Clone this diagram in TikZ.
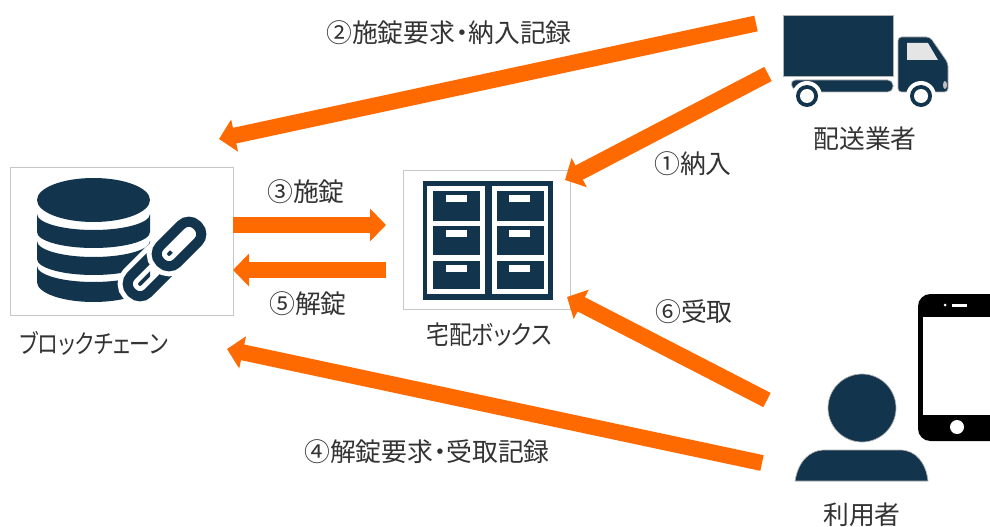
\documentclass[tikz,border=0pt]{standalone}
\usepackage{fontspec}
\setmainfont{Noto Sans CJK JP}[RawFeature=+palt]
\usetikzlibrary{arrows.meta}
\definecolor{navy}{HTML}{12344D}
\definecolor{flow}{HTML}{FF6A00}
\tikzset{
    frame/.style = {draw=black!22, line width=0.45pt, fill=white, inner sep=0pt},
    flowline/.style = {draw=flow, line width=0.32cm, -{Triangle[length=0.32cm, width=0.64cm]}},
    label/.style = {font=\fontsize{14.7pt}{17pt}\selectfont, text=black!80, inner sep=0pt},
    navyfill/.style = {fill=navy, draw=black!30, line width=0.4pt}
}

\begin{document}
\begin{tikzpicture}[x=0.02cm, y=-0.02cm]
    \useasboundingbox (0, 0) rectangle (990, 527);

    % frames
    \node[frame, minimum width=4.46cm, minimum height=2.96cm, name=chain] at (121.5, 241) {};
    \node[frame, minimum width=3.34cm, minimum height=2.78cm, name=box] at (486.5, 239.5) {};

    % database
    \fill[navy] (93.5, 200) ellipse [x radius=56.5, y radius=22];
    \foreach \top/\bot/\r in {214/232/16, 241/259/16, 266/282/20} {
        \fill[navy] (37, \top) arc[start angle=180, end angle=0, x radius=56.5, y radius=16]
            -- (150, \bot) arc[start angle=0, end angle=180, x radius=56.5, y radius=\r] -- cycle;
    }

    % chain link
    \foreach \cx/\cy in {150/274, 179/244} {
        \draw[white, line width=0.4cm, rounded corners=0.22cm, rotate around={45:(\cx, \cy)}] (\cx-26, \cy-12) rectangle (\cx+26, \cy+12);
        \draw[navy, line width=0.2cm, rounded corners=0.22cm, rotate around={45:(\cx, \cy)}] (\cx-26, \cy-12) rectangle (\cx+26, \cy+12);
    }

    % lockers
    \fill[navy] (423, 181) rectangle (553, 300);
    \foreach \x/\w in {427/58, 492/56} {
        \fill[white] (\x, 186) rectangle (\x+\w, 294);
    }
    \foreach \x/\hx in {433/446, 497/509} {
        \foreach \y/\b in {191/221, 226/255, 261/289} {
            \fill[navy] (\x, \y) rectangle (\x+47, \b);
            \fill[white] (\hx, \y+4) rectangle (\hx+21, \y+11);
        }
    }

    % truck
    \path[navyfill] (783, 15) rectangle (893, 76);
    \path[navyfill, rounded corners=3pt] (790, 80) -- (893, 80) -- (893, 92) -- (794, 92) -- cycle;
    \path[navyfill, rounded corners=2pt] (898, 37) -- (930, 37) -- (948, 63) -- (948, 92) -- (898, 92) -- cycle;
    \fill[white!90!black] (907, 43) -- (928, 43) -- (938, 60) -- (907, 60) -- cycle;
    \fill[black!25] (945, 85) ellipse [x radius=2, y radius=4];
    \foreach \x in {807, 921} {
        \fill[white] (\x, 96) circle (15);
        \fill[navy] (\x, 96) circle (11);
        \fill[white] (\x, 96) circle (7);
    }

    % user
    \path[navyfill] (862, 408) circle (34);
    \path[navyfill] (795, 481) .. controls (798, 463) and (808, 450) .. (825, 450) -- (900, 450)
        .. controls (916, 450) and (926, 463) .. (928, 481) -- cycle;

    % phone
    \fill[black, rounded corners=7] (918, 294) rectangle (1010, 441);
    \fill[white] (923, 317) rectangle (1010, 415);
    \fill[white] (957, 427) circle (7);
    \fill[white] (952, 304) rectangle (967, 306.5);
    \fill[white] (945, 305) circle (1.5);

    % flows
    \coordinate (p2s) at (756, 23.5);  \coordinate (p2e) at (219, 139);
    \coordinate (p1s) at (768, 74);    \coordinate (p1e) at (565, 180);
    \coordinate (p3s) at (233, 225);   \coordinate (p3e) at (386, 225);
    \coordinate (p5s) at (386, 270);   \coordinate (p5e) at (233, 270);
    \coordinate (p6s) at (767, 400);   \coordinate (p6e) at (567, 297);
    \coordinate (p4s) at (762, 463);   \coordinate (p4e) at (227, 349);
    \draw[flowline] (p2s) -- (p2e);
    \draw[flowline] (p1s) -- (p1e);
    \draw[flowline] (p3s) -- (p3e);
    \draw[flowline] (p5s) -- (p5e);
    \draw[flowline] (p6s) -- (p6e);
    \draw[flowline] (p4s) -- (p4e);

    % labels
    \node[label, xscale=0.81, transform shape, name=l_chain] at (94, 343) {ブロックチェーン};
    \node[label, xscale=0.88, transform shape, name=l_box] at (489, 335) {宅配ボックス};
    \node[label, name=l_truck] at (865, 139) {配送業者};
    \node[label, name=l_user] at (862, 515) {利用者};
    \node[label, name=l_two] at (449, 33) {②施錠要求・納入記録};
    \node[label, name=l_one] at (693, 164) {①納入};
    \node[label, name=l_three] at (306, 192) {③施錠};
    \node[label, name=l_five] at (308, 304) {⑤解錠};
    \node[label, name=l_six] at (694, 312) {⑥受取};
    \node[label, name=l_four] at (427, 452) {④解錠要求・受取記録};
\end{tikzpicture}
\end{document}
